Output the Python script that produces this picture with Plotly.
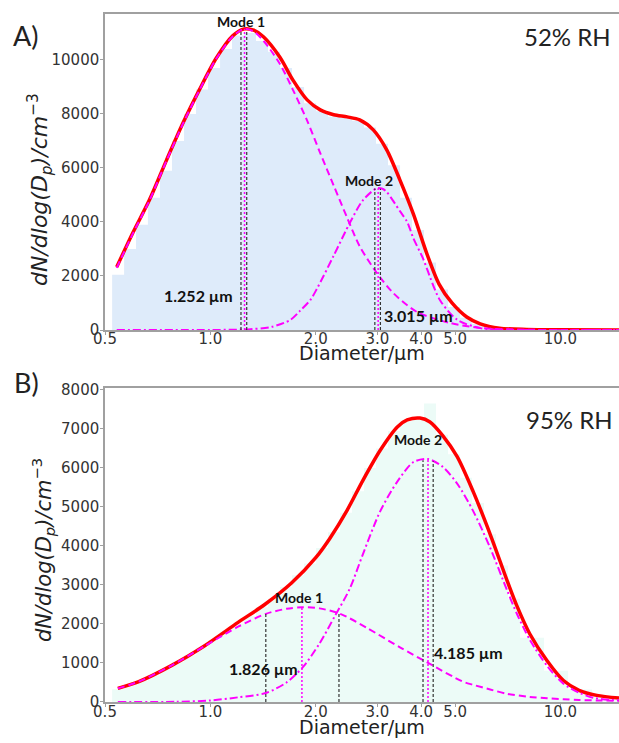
import math
import plotly.graph_objects as go

# ---------------- data ----------------
# Panel A (52% RH)
A_total_d = [0.54, 0.60, 0.67, 0.75, 0.835, 0.93, 1.04, 1.16, 1.25, 1.33, 1.42, 1.58, 1.72, 1.89,
             2.06, 2.25, 2.46, 2.67, 2.92, 3.19, 3.48, 3.8, 4.16, 4.5, 4.9, 5.4, 5.9, 6.7, 8.0, 10.0, 14.7]
A_total_v = [2330, 3590, 4820, 6300, 7660, 8890, 10070, 10900, 11150, 11100, 10850, 10100, 9260, 8520,
             8150, 7970, 7890, 7780, 7410, 6670, 5550, 4300, 2800, 1700, 1000, 480, 230, 70, 20, 5, 0]
A_mode1_d = [0.54, 0.60, 0.67, 0.75, 0.835, 0.93, 1.04, 1.16, 1.25, 1.33, 1.42, 1.58, 1.72, 1.89,
             2.06, 2.25, 2.46, 2.67, 2.99, 3.33, 3.89, 4.84, 6.0, 8.0, 14.7]
A_mode1_v = [2300, 3560, 4800, 6280, 7640, 8870, 10050, 10880, 11150, 11050, 10700, 9850, 8900, 7750,
             6550, 5350, 4150, 3100, 2110, 1370, 670, 260, 70, 10, 0]
A_mode2_d = [0.54, 1.0, 1.3, 1.5, 1.69, 1.8, 1.93, 2.02, 2.25, 2.51, 2.73, 2.99, 3.1, 3.19, 3.48,
             3.65, 3.8, 4.05, 4.16, 4.53, 5.07, 5.9, 7.0, 14.7]
A_mode2_v = [0, 0, 30, 120, 370, 700, 1110, 1550, 2750, 4000, 4810, 5250, 5230, 5110, 4400,
             4000, 3400, 2650, 2250, 1100, 380, 70, 10, 0]

# Panel B (95% RH)
B_total_d = [0.544, 0.622, 0.776, 0.966, 1.2, 1.43, 1.705, 2.0, 2.196, 2.46, 2.73, 3.06, 3.42, 3.65,
             3.97, 4.24, 4.61, 5.07, 5.63, 6.3, 7.05, 7.52, 8.17, 9.17, 10.2, 11.3, 12.7, 14.7]
B_total_v = [350, 517, 940, 1450, 2040, 2500, 3050, 3700, 4200, 4920, 5690, 6460, 7050, 7230,
             7280, 7180, 6830, 6290, 5400, 4300, 3100, 2450, 1750, 1050, 550, 300, 170, 100]
B_mode1_d = [0.544, 0.622, 0.776, 0.966, 1.2, 1.44, 1.65, 1.826, 2.05, 2.35, 2.8, 3.48, 4.19, 5.27,
             5.63, 6.3, 7.05, 8.17, 9.17, 10.2, 11.3, 12.7, 14.7]
B_mode1_v = [350, 517, 940, 1440, 1930, 2260, 2390, 2430, 2400, 2260, 1900, 1400, 1000, 520,
             440, 320, 210, 130, 95, 70, 50, 40, 30]
B_mode2_d = [0.544, 0.8, 1.0, 1.2, 1.44, 1.65, 1.84, 2.05, 2.27, 2.5, 2.73, 3.06, 3.42, 3.8, 4.185,
             4.61, 5.07, 5.63, 6.3, 7.05, 7.52, 8.17, 9.17, 10.2, 11.3, 12.4, 14.7]
B_mode2_v = [0, 5, 40, 120, 230, 500, 900, 1500, 2210, 2900, 3800, 4900, 5650, 6150, 6230,
             6030, 5600, 4900, 3950, 2850, 2250, 1600, 920, 470, 240, 110, 40]

# histogram bins (diameter edges, µm) and bar heights
hist_edges = [0.524, 0.567, 0.613, 0.663, 0.718, 0.777, 0.841, 0.910, 0.985, 1.066, 1.153, 1.248,
              1.350, 1.461, 1.581, 1.711, 1.852, 2.004, 2.168, 2.346, 2.539, 2.747, 2.973, 3.217,
              3.482, 3.767, 4.077, 4.412, 4.775, 5.167, 5.591, 6.050, 6.548, 7.085, 7.670, 8.98,
              10.52, 12.31, 14.7]
A_hist = [2050, 3000, 3900, 4900, 5900, 7000, 8000, 8900, 9700, 10400, 10900, 11000, 10700, 10300,
          9700, 9000, 8400, 8100, 7900, 7850, 7750, 7500, 6900, 6100, 4900, 3700, 2500, 1500, 850,
          450, 220, 110, 60, 30, 15, 5, 0, 0]
B_hist = [330, 430, 540, 680, 850, 1030, 1200, 1400, 1580, 1800, 2000, 2200, 2430, 2650, 2950,
          3250, 3550, 3950, 4350, 4850, 5400, 6000, 6500, 6950, 7200, 7300, 7650, 6850, 6350, 5750,
          5100, 4300, 3500, 2650, 1650, 800, 320, 150]

# mode markers: (diameter, height)
A_m1_black_d = [1.223, 1.27];  A_m1_black_h = [11100, 11100]
A_m1_mag_d = 1.252;            A_m1_mag_h = 11150
A_m2_black_d = [2.95, 3.06];   A_m2_black_h = [5240, 5230]
A_m2_mag_d = 3.015;            A_m2_mag_h = 5250
B_m1_black_d = [1.44, 2.33];   B_m1_black_h = [2260, 2270]
B_m1_mag_d = 1.826;            B_m1_mag_h = 2430
B_m2_black_d = [4.05, 4.33];   B_m2_black_h = [6200, 6170]
B_m2_mag_d = 4.185;            B_m2_mag_h = 6230

x_tickvals = [0.5, 1.0, 2.0, 3.0, 4.0, 5.0, 10.0]
x_ticktext = ["0.5", "1.0", "2.0", "3.0", "4.0", "5.0", "10.0"]
A_yticks = [0, 2000, 4000, 6000, 8000, 10000]
B_yticks = [0, 1000, 2000, 3000, 4000, 5000, 6000, 7000, 8000]

# ---------------- figure ----------------
RED = "#ff0000"
MAG = "#ff00ff"
fig = go.Figure()


def add_panel(xa, ya, hist, fillcol, tot_d, tot_v, m1_d, m1_v, m2_d, m2_v,
              blk_d, blk_h, mag1, m2blk_d, m2blk_h, mag2):
    fig.add_trace(go.Scatter(x=hist_edges, y=hist + [hist[-1]], mode="lines",
                             line=dict(shape="hv", width=0, color=fillcol),
                             fill="tozeroy", fillcolor=fillcol, xaxis=xa, yaxis=ya,
                             hoverinfo="skip"))
    fig.add_trace(go.Scatter(x=tot_d, y=tot_v, mode="lines",
                             line=dict(color=RED, width=3.5, shape="spline", smoothing=0.8),
                             xaxis=xa, yaxis=ya))
    fig.add_trace(go.Scatter(x=m1_d, y=m1_v, mode="lines",
                             line=dict(color=MAG, width=2, dash="7px,4px", shape="spline", smoothing=0.8),
                             xaxis=xa, yaxis=ya))
    fig.add_trace(go.Scatter(x=m2_d, y=m2_v, mode="lines",
                             line=dict(color=MAG, width=2, dash="8px,3px,2px,3px", shape="spline", smoothing=0.8),
                             xaxis=xa, yaxis=ya))
    for dlist, hlist, mag in ((blk_d, blk_h, mag1), (m2blk_d, m2blk_h, mag2)):
        for d, h in zip(dlist, hlist):
            fig.add_trace(go.Scatter(x=[d, d], y=[0, h], mode="lines",
                                     line=dict(color="#333333", width=1.2, dash="3px,2px"),
                                     xaxis=xa, yaxis=ya))
        fig.add_trace(go.Scatter(x=[mag[0], mag[0]], y=[0, mag[1]], mode="lines",
                                 line=dict(color=MAG, width=1.5, dash="2px,2px"),
                                 xaxis=xa, yaxis=ya))


add_panel("x", "y", A_hist, "rgb(222,235,250)", A_total_d, A_total_v, A_mode1_d, A_mode1_v,
          A_mode2_d, A_mode2_v, A_m1_black_d, A_m1_black_h, (A_m1_mag_d, A_m1_mag_h),
          A_m2_black_d, A_m2_black_h, (A_m2_mag_d, A_m2_mag_h))
add_panel("x2", "y2", B_hist, "rgb(236,251,247)", B_total_d, B_total_v, B_mode1_d, B_mode1_v,
          B_mode2_d, B_mode2_v, B_m1_black_d, B_m1_black_h, (B_m1_mag_d, B_m1_mag_h),
          B_m2_black_d, B_m2_black_h, (B_m2_mag_d, B_m2_mag_h))

xr = [math.log10(0.5), math.log10(14.7)]
tickfont = dict(family="DejaVu Sans", size=15, color="#333333")
axline = dict(showline=True, linecolor="#a0a0a0", linewidth=1.5, showgrid=False, zeroline=False,
              ticks="outside", ticklen=3, tickcolor="#a0a0a0", tickfont=tickfont)

fig.update_layout(
    width=619, height=743, margin=dict(l=105, r=0, t=14, b=41),
    paper_bgcolor="white", plot_bgcolor="white", showlegend=False,
    xaxis=dict(type="log", range=xr, domain=[0, 1], anchor="y", tickvals=x_tickvals,
               ticktext=x_ticktext, mirror=True, ticklabelstandoff=-9, **axline),
    yaxis=dict(range=[0, 11700], domain=[0.5407, 1], anchor="x", tickvals=A_yticks,
               ticktext=[str(v) for v in A_yticks], ticklabelstandoff=-2, **axline),
    xaxis2=dict(type="log", range=xr, domain=[0, 1], anchor="y2", tickvals=x_tickvals,
                ticktext=x_ticktext, mirror=True, ticklabelstandoff=-8, **axline),
    yaxis2=dict(range=[0, 8050], domain=[0, 0.4564], anchor="x2", tickvals=B_yticks,
                ticktext=[str(v) for v in B_yticks], ticklabelstandoff=-2, **axline),
)


def px2paper(px, py):
    return (px - 105) / 514, (702 - py) / 688


lab = dict(family="Lato", size=14, color="#111111")
labbig = dict(family="Lato", size=16, color="#111111")
L = math.log10
ann = [
    # panel A
    dict(x=L(A_m1_mag_d), y=11407, xref="x", yref="y", text="<b>Mode 1</b>", xshift=-4, font=lab),
    dict(x=L(A_m2_mag_d), y=5520, xref="x", yref="y", text="<b>Mode 2</b>", xshift=-9, font=lab),
    dict(x=L(A_m1_mag_d), y=1260, xref="x", yref="y", text="<b>1.252 µm</b>", xanchor="right", xshift=-10, font=labbig),
    dict(x=L(A_m2_mag_d), y=520, xref="x", yref="y", text="<b>3.015 µm</b>", xanchor="left", xshift=4, font=labbig),
    # panel B
    dict(x=L(B_m1_mag_d), y=2670, xref="x2", yref="y2", text="<b>Mode 1</b>", xshift=-3, font=lab),
    dict(x=L(B_m2_mag_d), y=6720, xref="x2", yref="y2", text="<b>Mode 2</b>", xshift=-10, font=lab),
    dict(x=L(B_m1_mag_d), y=870, xref="x2", yref="y2", text="<b>1.826 µm</b>", xanchor="right", xshift=-2, font=labbig),
    dict(x=L(B_m2_mag_d), y=1280, xref="x2", yref="y2", text="<b>4.185 µm</b>", xanchor="left", xshift=4, font=labbig),
]
big = dict(family="Lato", size=24, color="#222")
for txt, px, py, f, ang in [
        ("52% RH", 567, 37, big, 0),
        ("95% RH", 569, 420, big, 0),
        ("A)", 26, 36, dict(family="Lato", size=27, color="#222"), 0),
        ("B)", 26, 383, dict(family="Lato", size=27, color="#222"), 0),
        ("Diameter/µm", 362, 353, dict(family="DejaVu Sans", size=19, color="#222"), 0),
        ("Diameter/µm", 362, 727, dict(family="DejaVu Sans", size=19, color="#222"), 0),
        ("<i>dN/dlog(D<sub>p</sub>)/cm</i><sup>−3</sup>", 40, 190, dict(family="DejaVu Sans", size=22, color="#222"), -90),
        ("<i>dN/dlog(D<sub>p</sub>)/cm</i><sup>−3</sup>", 43, 550, dict(family="DejaVu Sans", size=21, color="#222"), -90)]:
    x, y = px2paper(px, py)
    ann.append(dict(x=x, y=y, xref="paper", yref="paper", text=txt, font=f, textangle=ang))

for a in ann:
    a["showarrow"] = False
    a.setdefault("xanchor", "center")
    a.setdefault("yanchor", "middle")
fig.update_layout(annotations=ann)

fig.write_html("out.html")
